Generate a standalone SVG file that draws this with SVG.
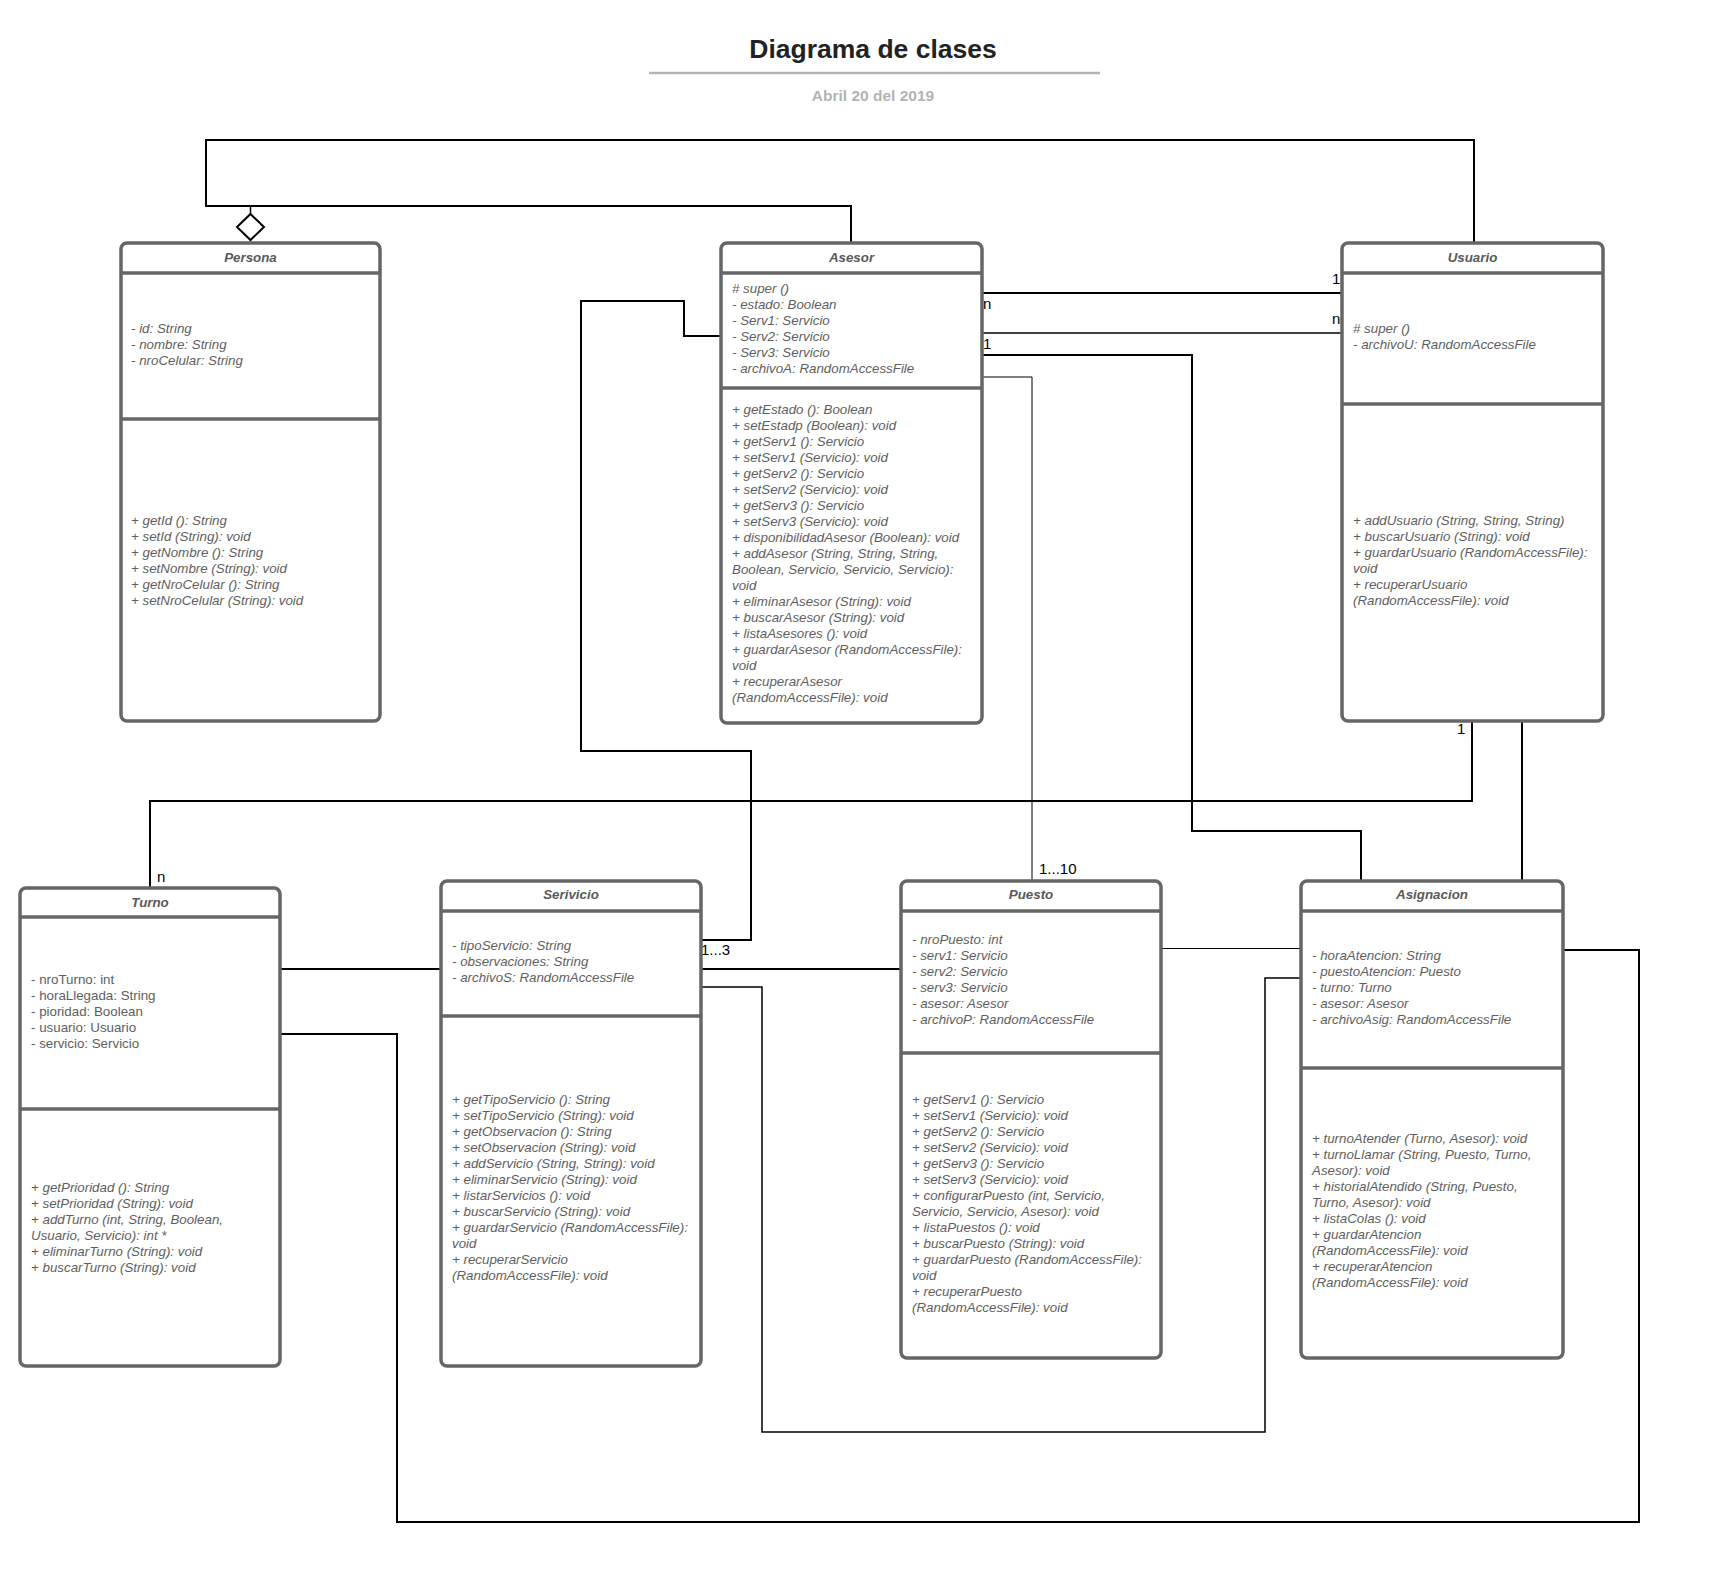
<svg xmlns="http://www.w3.org/2000/svg" width="1716" height="1588" viewBox="0 0 1716 1588">
<style>
.box{fill:#fff;stroke:#666;stroke-width:3.5}
.sep{stroke:#666;stroke-width:3.5}
.cname{font-family:"Liberation Sans",Arial,sans-serif;font-size:13.33px;font-weight:bold;font-style:italic;fill:#595959;text-anchor:middle}
.mem{font-family:"Liberation Sans",Arial,sans-serif;font-size:13.33px;font-style:italic;fill:#5e5e5e}
.memn{font-family:"Liberation Sans",Arial,sans-serif;font-size:13.33px;fill:#5e5e5e}
.c{fill:none;stroke:#000;stroke-width:2}
.ct{fill:none;stroke:#000;stroke-width:1}
.cm{fill:none;stroke:#000;stroke-width:1.5}
.lbl{font-family:"Liberation Sans",Arial,sans-serif;font-size:15px;fill:#000}
</style>
<rect width="1716" height="1588" fill="#fff"/>
<g id="title">
<text x="873" y="58" font-family="'Liberation Sans',Arial,sans-serif" font-size="26.5" font-weight="bold" fill="#222" text-anchor="middle">Diagrama de clases</text>
<line x1="649" y1="73" x2="1100" y2="73" stroke="#b3b3b3" stroke-width="2.5"/>
<text x="873" y="101" font-family="'Liberation Sans',Arial,sans-serif" font-size="15.5" font-weight="bold" fill="#b3b3b3" text-anchor="middle">Abril 20 del 2019</text>
</g>
<g id="connectors">
<path class="c" d="M851 243 V206 H206 V140 H1474 V243"/>
<path class="cm" d="M250.5 206 V214"/>
<path class="c" d="M982 293 H1342"/>
<path class="cm" d="M982 333 H1342"/>
<path class="c" d="M982 355 H1192 V831 H1361 V881"/>
<path class="ct" d="M982 377 H1032 V881"/>
<path class="c" d="M721 336 H684 V301 H581 V751 H751 V940 H701"/>
<path class="c" d="M1472 721 V801 H150 V888"/>
<path class="c" d="M1522 721 V881"/>
<path class="c" d="M280 969 H441"/>
<path class="c" d="M701 969 H901"/>
<path class="c" d="M280 1034 H397 V1522 H1639 V950 H1563"/>
<path class="cm" d="M701 987 H762 V1432 H1265 V978 H1301"/>
<path class="ct" d="M1161 948.5 H1301"/>
<text class="lbl" x="983" y="309">n</text>
<text class="lbl" x="983" y="349">1</text>
<text class="lbl" x="1332" y="284">1</text>
<text class="lbl" x="1332" y="324">n</text>
<text class="lbl" x="1457" y="734">1</text>
<text class="lbl" x="157" y="882">n</text>
<text class="lbl" x="701" y="955">1...3</text>
<text class="lbl" x="1039" y="874">1...10</text>
</g>
<g id="Persona">
<rect class="box" x="121" y="243" width="259" height="478" rx="6"/>
<line class="sep" x1="121" y1="273" x2="380" y2="273"/>
<line class="sep" x1="121" y1="419" x2="380" y2="419"/>
<text class="cname" x="250.5" y="261.5">Persona</text>
<text class="mem"><tspan x="131" y="333">- id: String</tspan><tspan x="131" y="349">- nombre: String</tspan><tspan x="131" y="365">- nroCelular: String</tspan></text>
<text class="mem"><tspan x="131" y="525">+ getId (): String</tspan><tspan x="131" y="541">+ setId (String): void</tspan><tspan x="131" y="557">+ getNombre (): String</tspan><tspan x="131" y="573">+ setNombre (String): void</tspan><tspan x="131" y="589">+ getNroCelular (): String</tspan><tspan x="131" y="605">+ setNroCelular (String): void</tspan></text>
</g>
<g id="aggregation">
<polygon points="250.5,214 264,227 250.5,240 237,227" fill="#fff" stroke="#000" stroke-width="2"/>
</g>
<g id="Asesor">
<rect class="box" x="721" y="243" width="261" height="480" rx="6"/>
<line class="sep" x1="721" y1="273" x2="982" y2="273"/>
<line class="sep" x1="721" y1="388" x2="982" y2="388"/>
<text class="cname" x="851.5" y="261.5">Asesor</text>
<text class="mem"><tspan x="732" y="293"># super ()</tspan><tspan x="732" y="309">- estado: Boolean</tspan><tspan x="732" y="325">- Serv1: Servicio</tspan><tspan x="732" y="341">- Serv2: Servicio</tspan><tspan x="732" y="357">- Serv3: Servicio</tspan><tspan x="732" y="373">- archivoA: RandomAccessFile</tspan></text>
<text class="mem"><tspan x="732" y="413.5">+ getEstado (): Boolean</tspan><tspan x="732" y="429.5">+ setEstadp (Boolean): void</tspan><tspan x="732" y="445.5">+ getServ1 (): Servicio</tspan><tspan x="732" y="461.5">+ setServ1 (Servicio): void</tspan><tspan x="732" y="477.5">+ getServ2 (): Servicio</tspan><tspan x="732" y="493.5">+ setServ2 (Servicio): void</tspan><tspan x="732" y="509.5">+ getServ3 (): Servicio</tspan><tspan x="732" y="525.5">+ setServ3 (Servicio): void</tspan><tspan x="732" y="541.5">+ disponibilidadAsesor (Boolean): void</tspan><tspan x="732" y="557.5">+ addAsesor (String, String, String,</tspan><tspan x="732" y="573.5">Boolean, Servicio, Servicio, Servicio):</tspan><tspan x="732" y="589.5">void</tspan><tspan x="732" y="605.5">+ eliminarAsesor (String): void</tspan><tspan x="732" y="621.5">+ buscarAsesor (String): void</tspan><tspan x="732" y="637.5">+ listaAsesores (): void</tspan><tspan x="732" y="653.5">+ guardarAsesor (RandomAccessFile):</tspan><tspan x="732" y="669.5">void</tspan><tspan x="732" y="685.5">+ recuperarAsesor</tspan><tspan x="732" y="701.5">(RandomAccessFile): void</tspan></text>
</g>
<g id="Usuario">
<rect class="box" x="1342" y="243" width="261" height="478" rx="6"/>
<line class="sep" x1="1342" y1="273" x2="1603" y2="273"/>
<line class="sep" x1="1342" y1="404" x2="1603" y2="404"/>
<text class="cname" x="1472.5" y="261.5">Usuario</text>
<text class="mem"><tspan x="1353" y="333"># super ()</tspan><tspan x="1353" y="349">- archivoU: RandomAccessFile</tspan></text>
<text class="mem"><tspan x="1353" y="525">+ addUsuario (String, String, String)</tspan><tspan x="1353" y="541">+ buscarUsuario (String): void</tspan><tspan x="1353" y="557">+ guardarUsuario (RandomAccessFile):</tspan><tspan x="1353" y="573">void</tspan><tspan x="1353" y="589">+ recuperarUsuario</tspan><tspan x="1353" y="605">(RandomAccessFile): void</tspan></text>
</g>
<g id="Turno">
<rect class="box" x="20" y="888" width="260" height="478" rx="6"/>
<line class="sep" x1="20" y1="917" x2="280" y2="917"/>
<line class="sep" x1="20" y1="1109" x2="280" y2="1109"/>
<text class="cname" x="150" y="906.5">Turno</text>
<text class="memn"><tspan x="31" y="984">- nroTurno: int</tspan><tspan x="31" y="1000">- horaLlegada: String</tspan><tspan x="31" y="1016">- pioridad: Boolean</tspan><tspan x="31" y="1032">- usuario: Usuario</tspan><tspan x="31" y="1048">- servicio: Servicio</tspan></text>
<text class="mem"><tspan x="31" y="1192">+ getPrioridad (): String</tspan><tspan x="31" y="1208">+ setPrioridad (String): void</tspan><tspan x="31" y="1224">+ addTurno (int, String, Boolean,</tspan><tspan x="31" y="1240">Usuario, Servicio): int *</tspan><tspan x="31" y="1256">+ eliminarTurno (String): void</tspan><tspan x="31" y="1272">+ buscarTurno (String): void</tspan></text>
</g>
<g id="Servicio">
<rect class="box" x="441" y="881" width="260" height="485" rx="6"/>
<line class="sep" x1="441" y1="911" x2="701" y2="911"/>
<line class="sep" x1="441" y1="1016" x2="701" y2="1016"/>
<text class="cname" x="571" y="899">Serivicio</text>
<text class="mem"><tspan x="452" y="950">- tipoServicio: String</tspan><tspan x="452" y="966">- observaciones: String</tspan><tspan x="452" y="982">- archivoS: RandomAccessFile</tspan></text>
<text class="mem"><tspan x="452" y="1104">+ getTipoServicio (): String</tspan><tspan x="452" y="1120">+ setTipoServicio (String): void</tspan><tspan x="452" y="1136">+ getObservacion (): String</tspan><tspan x="452" y="1152">+ setObservacion (String): void</tspan><tspan x="452" y="1168">+ addServicio (String, String): void</tspan><tspan x="452" y="1184">+ eliminarServicio (String): void</tspan><tspan x="452" y="1200">+ listarServicios (): void</tspan><tspan x="452" y="1216">+ buscarServicio (String): void</tspan><tspan x="452" y="1232">+ guardarServicio (RandomAccessFile):</tspan><tspan x="452" y="1248">void</tspan><tspan x="452" y="1264">+ recuperarServicio</tspan><tspan x="452" y="1280">(RandomAccessFile): void</tspan></text>
</g>
<g id="Puesto">
<rect class="box" x="901" y="881" width="260" height="477" rx="6"/>
<line class="sep" x1="901" y1="911" x2="1161" y2="911"/>
<line class="sep" x1="901" y1="1053" x2="1161" y2="1053"/>
<text class="cname" x="1031" y="899">Puesto</text>
<text class="mem"><tspan x="912" y="944">- nroPuesto: int</tspan><tspan x="912" y="960">- serv1: Servicio</tspan><tspan x="912" y="976">- serv2: Servicio</tspan><tspan x="912" y="992">- serv3: Servicio</tspan><tspan x="912" y="1008">- asesor: Asesor</tspan><tspan x="912" y="1024">- archivoP: RandomAccessFile</tspan></text>
<text class="mem"><tspan x="912" y="1103.5">+ getServ1 (): Servicio</tspan><tspan x="912" y="1119.5">+ setServ1 (Servicio): void</tspan><tspan x="912" y="1135.5">+ getServ2 (): Servicio</tspan><tspan x="912" y="1151.5">+ setServ2 (Servicio): void</tspan><tspan x="912" y="1167.5">+ getServ3 (): Servicio</tspan><tspan x="912" y="1183.5">+ setServ3 (Servicio): void</tspan><tspan x="912" y="1199.5">+ configurarPuesto (int, Servicio,</tspan><tspan x="912" y="1215.5">Servicio, Servicio, Asesor): void</tspan><tspan x="912" y="1231.5">+ listaPuestos (): void</tspan><tspan x="912" y="1247.5">+ buscarPuesto (String): void</tspan><tspan x="912" y="1263.5">+ guardarPuesto (RandomAccessFile):</tspan><tspan x="912" y="1279.5">void</tspan><tspan x="912" y="1295.5">+ recuperarPuesto</tspan><tspan x="912" y="1311.5">(RandomAccessFile): void</tspan></text>
</g>
<g id="Asignacion">
<rect class="box" x="1301" y="881" width="262" height="477" rx="6"/>
<line class="sep" x1="1301" y1="911" x2="1563" y2="911"/>
<line class="sep" x1="1301" y1="1068" x2="1563" y2="1068"/>
<text class="cname" x="1432" y="899">Asignacion</text>
<text class="mem"><tspan x="1312" y="960">- horaAtencion: String</tspan><tspan x="1312" y="976">- puestoAtencion: Puesto</tspan><tspan x="1312" y="992">- turno: Turno</tspan><tspan x="1312" y="1008">- asesor: Asesor</tspan><tspan x="1312" y="1024">- archivoAsig: RandomAccessFile</tspan></text>
<text class="mem"><tspan x="1312" y="1143">+ turnoAtender (Turno, Asesor): void</tspan><tspan x="1312" y="1159">+ turnoLlamar (String, Puesto, Turno,</tspan><tspan x="1312" y="1175">Asesor): void</tspan><tspan x="1312" y="1191">+ historialAtendido (String, Puesto,</tspan><tspan x="1312" y="1207">Turno, Asesor): void</tspan><tspan x="1312" y="1223">+ listaColas (): void</tspan><tspan x="1312" y="1239">+ guardarAtencion</tspan><tspan x="1312" y="1255">(RandomAccessFile): void</tspan><tspan x="1312" y="1271">+ recuperarAtencion</tspan><tspan x="1312" y="1287">(RandomAccessFile): void</tspan></text>
</g>
</svg>
